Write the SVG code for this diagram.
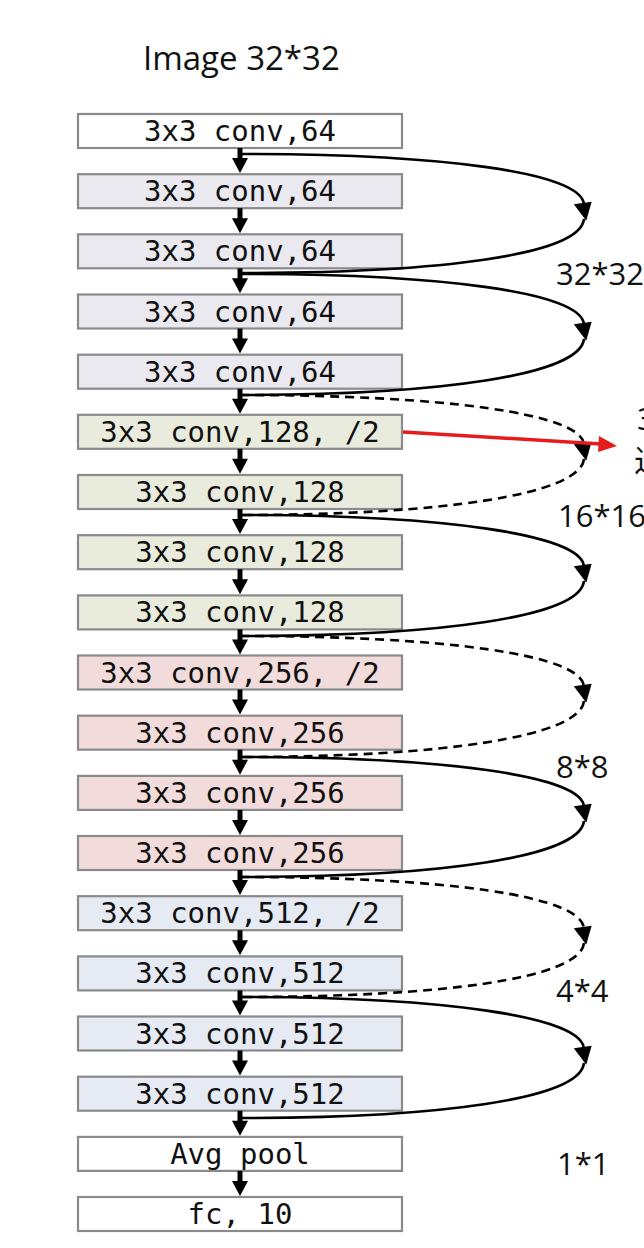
<svg xmlns="http://www.w3.org/2000/svg" xmlns:xlink="http://www.w3.org/1999/xlink" width="644" height="1248" viewBox="0 0 644 1248">
<defs>
<style>
.box{stroke:#8a8a8a;stroke-width:2.2}
.w{fill:#ffffff}.p{fill:#ebe9f0}.g{fill:#e9ecdd}.r{fill:#f2dcdb}.b{fill:#e5eaf3}
.t{font-family:"DejaVu Sans Mono","Liberation Mono",monospace;font-size:29px;fill:#111;text-anchor:middle}
.lbl{font-family:"Open Sans","Noto Sans",sans-serif;font-size:31px;fill:#111}
.sh{stroke:#000;stroke-width:5}
.skip{fill:none;stroke:#000;stroke-width:2.6}
.dash{stroke-dasharray:9 6}
</style>
<path id="tri" d="M-9,-9 L9,-9 L1,9 Z" fill="#000"/>
</defs>
<rect width="644" height="1248" fill="#fff"/>
<text class="lbl" x="143" y="70" style="font-size:33px">Image 32*32</text>

<g id="n1"><rect class="box w" x="78" y="114" width="324" height="34"/><text class="t" x="240" y="141">3x3 conv,64</text></g>
<g id="n2"><rect class="box p" x="78" y="174.2" width="324" height="34"/><text class="t" x="240" y="201.2">3x3 conv,64</text></g>
<g id="n3"><rect class="box p" x="78" y="234.3" width="324" height="34"/><text class="t" x="240" y="261.3">3x3 conv,64</text></g>
<g id="n4"><rect class="box p" x="78" y="294.5" width="324" height="34"/><text class="t" x="240" y="321.5">3x3 conv,64</text></g>
<g id="n5"><rect class="box p" x="78" y="354.7" width="324" height="34"/><text class="t" x="240" y="381.7">3x3 conv,64</text></g>
<g id="n6"><rect class="box g" x="78" y="414.8" width="324" height="34"/><text class="t" x="240" y="441.8">3x3 conv,128, /2</text></g>
<g id="n7"><rect class="box g" x="78" y="475" width="324" height="34"/><text class="t" x="240" y="502">3x3 conv,128</text></g>
<g id="n8"><rect class="box g" x="78" y="535.2" width="324" height="34"/><text class="t" x="240" y="562.2">3x3 conv,128</text></g>
<g id="n9"><rect class="box g" x="78" y="595.4" width="324" height="34"/><text class="t" x="240" y="622.4">3x3 conv,128</text></g>
<g id="n10"><rect class="box r" x="78" y="655.5" width="324" height="34"/><text class="t" x="240" y="682.5">3x3 conv,256, /2</text></g>
<g id="n11"><rect class="box r" x="78" y="715.7" width="324" height="34"/><text class="t" x="240" y="742.7">3x3 conv,256</text></g>
<g id="n12"><rect class="box r" x="78" y="775.9" width="324" height="34"/><text class="t" x="240" y="802.9">3x3 conv,256</text></g>
<g id="n13"><rect class="box r" x="78" y="836" width="324" height="34"/><text class="t" x="240" y="863">3x3 conv,256</text></g>
<g id="n14"><rect class="box b" x="78" y="896.2" width="324" height="34"/><text class="t" x="240" y="923.2">3x3 conv,512, /2</text></g>
<g id="n15"><rect class="box b" x="78" y="956.4" width="324" height="34"/><text class="t" x="240" y="983.4">3x3 conv,512</text></g>
<g id="n16"><rect class="box b" x="78" y="1016.5" width="324" height="34"/><text class="t" x="240" y="1043.5">3x3 conv,512</text></g>
<g id="n17"><rect class="box b" x="78" y="1076.7" width="324" height="34"/><text class="t" x="240" y="1103.7">3x3 conv,512</text></g>
<g id="n18"><rect class="box w" x="78" y="1136.9" width="324" height="34"/><text class="t" x="240" y="1163.9">Avg pool</text></g>
<g id="n19"><rect class="box w" x="78" y="1197" width="324" height="34"/><text class="t" x="240" y="1224">fc, 10</text></g>

<g id="labels">
<text class="lbl" x="556" y="285">32*32</text>
<text class="lbl" x="558" y="527">16*16</text>
<text class="lbl" x="556" y="778">8*8</text>
<text class="lbl" x="556" y="1002">4*4</text>
<text class="lbl" x="557" y="1175">1*1</text>
<text class="lbl" x="637" y="430" style="font-family:'Open Sans','Noto Sans CJK SC',sans-serif">3</text>
<text class="lbl" x="634" y="472" style="font-family:'Noto Sans CJK SC',sans-serif">过</text>
</g>

<g id="connectors">
<g id="down">
<line class="sh" x1="240" y1="148" x2="240" y2="160"/><path d="M232,158 L248,158 L240,173 Z"/>
<line class="sh" x1="240" y1="208.2" x2="240" y2="220.2"/><path d="M232,218.2 L248,218.2 L240,233.2 Z"/>
<line class="sh" x1="240" y1="268.3" x2="240" y2="280.3"/><path d="M232,278.3 L248,278.3 L240,293.3 Z"/>
<line class="sh" x1="240" y1="328.5" x2="240" y2="340.5"/><path d="M232,338.5 L248,338.5 L240,353.5 Z"/>
<line class="sh" x1="240" y1="388.7" x2="240" y2="400.7"/><path d="M232,398.7 L248,398.7 L240,413.7 Z"/>
<line class="sh" x1="240" y1="448.8" x2="240" y2="460.8"/><path d="M232,458.8 L248,458.8 L240,473.8 Z"/>
<line class="sh" x1="240" y1="509" x2="240" y2="521"/><path d="M232,519 L248,519 L240,534 Z"/>
<line class="sh" x1="240" y1="569.2" x2="240" y2="581.2"/><path d="M232,579.2 L248,579.2 L240,594.2 Z"/>
<line class="sh" x1="240" y1="629.4" x2="240" y2="641.4"/><path d="M232,639.4 L248,639.4 L240,654.4 Z"/>
<line class="sh" x1="240" y1="689.5" x2="240" y2="701.5"/><path d="M232,699.5 L248,699.5 L240,714.5 Z"/>
<line class="sh" x1="240" y1="749.7" x2="240" y2="761.7"/><path d="M232,759.7 L248,759.7 L240,774.7 Z"/>
<line class="sh" x1="240" y1="809.9" x2="240" y2="821.9"/><path d="M232,819.9 L248,819.9 L240,834.9 Z"/>
<line class="sh" x1="240" y1="870" x2="240" y2="882"/><path d="M232,880 L248,880 L240,895 Z"/>
<line class="sh" x1="240" y1="930.2" x2="240" y2="942.2"/><path d="M232,940.2 L248,940.2 L240,955.2 Z"/>
<line class="sh" x1="240" y1="990.4" x2="240" y2="1002.4"/><path d="M232,1000.4 L248,1000.4 L240,1015.4 Z"/>
<line class="sh" x1="240" y1="1050.5" x2="240" y2="1062.5"/><path d="M232,1060.5 L248,1060.5 L240,1075.5 Z"/>
<line class="sh" x1="240" y1="1110.7" x2="240" y2="1122.7"/><path d="M232,1120.7 L248,1120.7 L240,1135.7 Z"/>
<line class="sh" x1="240" y1="1170.9" x2="240" y2="1182.9"/><path d="M232,1180.9 L248,1180.9 L240,1195.9 Z"/>
</g>
<g id="skips">
<path class="skip" d="M240,154 C440,154 583,172 584,205"/>
<path class="skip" d="M584,219 C580,255 440,273 240,273"/>
<use xlink:href="#tri" href="#tri" transform="translate(584,212) rotate(-8)"/>
<path class="skip" d="M240,274 C440,274 583,292 584,325"/>
<path class="skip" d="M584,339 C580,375 440,395 240,395"/>
<use xlink:href="#tri" href="#tri" transform="translate(584,332) rotate(-8)"/>
<path class="skip dash" d="M240,395 C440,395 583,413 584,445"/>
<path class="skip dash" d="M584,459 C580,495 440,515 240,515"/>
<use xlink:href="#tri" href="#tri" transform="translate(584,452) rotate(-8)"/>
<path class="skip" d="M240,515 C440,515 583,534 584,567"/>
<path class="skip" d="M584,581 C580,617 440,636 240,636"/>
<use xlink:href="#tri" href="#tri" transform="translate(584,574) rotate(-8)"/>
<path class="skip dash" d="M240,636 C440,636 583,654 584,687"/>
<path class="skip dash" d="M584,701 C580,737 440,757 240,757"/>
<use xlink:href="#tri" href="#tri" transform="translate(584,694) rotate(-8)"/>
<path class="skip" d="M240,757 C440,757 583,775 584,807"/>
<path class="skip" d="M584,821 C580,857 440,877 240,877"/>
<use xlink:href="#tri" href="#tri" transform="translate(584,814) rotate(-8)"/>
<path class="skip dash" d="M240,877 C440,877 583,895 584,929"/>
<path class="skip dash" d="M584,943 C580,979 440,997 240,997"/>
<use xlink:href="#tri" href="#tri" transform="translate(584,936) rotate(-8)"/>
<path class="skip" d="M240,997 C440,997 583,1016 584,1049"/>
<path class="skip" d="M584,1063 C580,1099 440,1118 240,1118"/>
<use xlink:href="#tri" href="#tri" transform="translate(584,1056) rotate(-8)"/>
</g>
<g id="red">
<line x1="403" y1="432" x2="601" y2="444" stroke="#e51c1c" stroke-width="3.5"/>
<path d="M599,436 L617,446 L598,452 Z" fill="#e51c1c"/>
</g>
</g>
</svg>
